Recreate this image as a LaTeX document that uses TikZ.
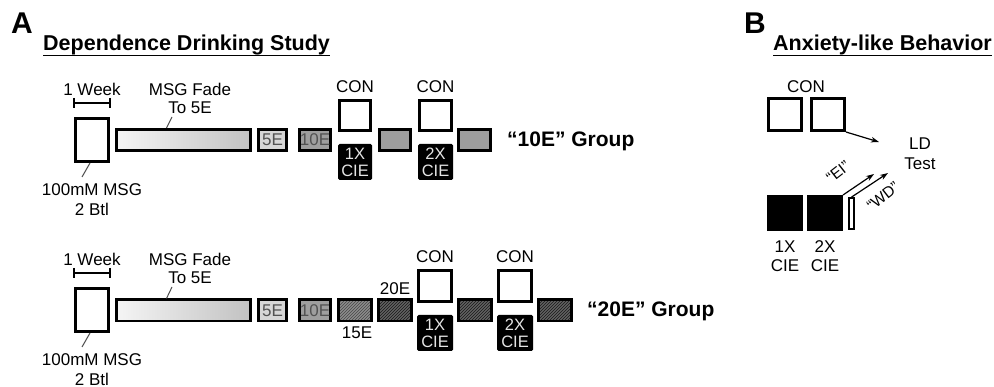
\documentclass[tikz,border=0pt]{standalone}
\usepackage{fontspec}
\setmainfont{Liberation Sans}
\usetikzlibrary{arrows.meta,patterns}
\begin{document}
\begin{tikzpicture}[x=1pt,y=-1pt,
  lbl/.style={inner sep=0pt,font=\fontsize{17}{19}\selectfont},
  ttl/.style={inner sep=0pt,anchor=base west,font=\bfseries\fontsize{21.5}{24}\selectfont},
  grp/.style={inner sep=0pt,anchor=base west,font=\bfseries\fontsize{21}{24}\selectfont},
  letter/.style={inner sep=0pt,anchor=base west,font=\bfseries\fontsize{30}{32}\selectfont},
  box/.style={draw=black,line width=2.8pt,inner sep=0pt},
  wbox/.style={box,fill=white},
  barbox/.style={box,minimum height=21.2pt},
  etxt/.style={font=\fontsize{17}{19}\selectfont,text=black!68},
  cie/.style={fill=black,rounded corners=1.5pt,inner sep=0pt,align=center,
    text=black!10,font=\fontsize{16.5}{17}\selectfont},
  hatchA/.style={preaction={fill=black!45},pattern=north east lines,pattern color=black!72},
  hatchB/.style={preaction={fill=black!62},pattern=north east lines,pattern color=black!90},
  conn/.style={line width=1pt,black!70},
  brk/.style={line width=2pt},
  arr/.style={line width=1.2pt,-{Stealth[length=8pt,width=5.5pt]}}
]
\useasboundingbox (0,0) rectangle (994,387);

% ---------------- Panel A ----------------
\node[letter] (la) at (11,34) {A};
\node[ttl] (ta) at (43,51) {Dependence Drinking Study};
\draw[line width=1.6pt] ([yshift=-4.5pt]ta.base west) -- ([yshift=-4.5pt]ta.base east);

% ---- top row ("10E" Group) ----
\node[lbl] (wk1) at (92,89) {1 Week};
\coordinate (wk1a) at (74,103);
\coordinate (wk1b) at (110,103);
\draw[brk] (wk1a) -- (wk1b);
\draw[brk] ([yshift=5pt]wk1a) -- ([yshift=-5pt]wk1a);
\draw[brk] ([yshift=5pt]wk1b) -- ([yshift=-5pt]wk1b);

\node[wbox,minimum width=33.2pt,minimum height=43.2pt] (msg1) at (92,140) {};
\coordinate (m1c) at (82,177);
\draw[conn] ([xshift=-2pt]msg1.south) -- (m1c);
\node[lbl] (m1t) at (92,190) {100mM MSG};
\node[lbl] (m1u) at (92,209) {2 Btl};

\node[barbox,minimum width=134.2pt,left color=black!4,right color=black!24] (fade1) at (183.5,140) {};
\node[lbl] (f1a) at (190,89) {MSG Fade};
\node[lbl] (f1b) at (190,108) {To 5E};
\coordinate (f1c) at (172,117);
\draw[conn] ([xshift=-17pt]fade1.north) -- (f1c);

\node[barbox,minimum width=28.2pt,fill=black!16,etxt] (e5a) at (272.5,140) {5E};
\node[barbox,minimum width=31.2pt,fill=black!38,etxt] (e10a) at (315,140) {10E};

\node[lbl] (cta1) at (355,87) {CON};
\node[wbox,minimum width=31.2pt,minimum height=30.2pt] (cona1) at (355,115.5) {};
\node[cie,minimum width=34pt,minimum height=36pt] (ciea1) at (355,162) {1X\\CIE};
\node[barbox,minimum width=31.2pt,fill=black!38] (ga1) at (395,140) {};
\node[lbl] (cta2) at (435.5,87) {CON};
\node[wbox,minimum width=32.2pt,minimum height=30.2pt] (cona2) at (435.5,115.5) {};
\node[cie,minimum width=35pt,minimum height=36pt] (ciea2) at (435.5,162) {2X\\CIE};
\node[barbox,minimum width=32.2pt,fill=black!38] (ga2) at (474.5,140) {};
\node[grp] (g10) at (507,147) {“10E” Group};

% ---- bottom row ("20E" Group) ----
\node[lbl] (wk2) at (92,259) {1 Week};
\coordinate (wk2a) at (74,273);
\coordinate (wk2b) at (110,273);
\draw[brk] (wk2a) -- (wk2b);
\draw[brk] ([yshift=5pt]wk2a) -- ([yshift=-5pt]wk2a);
\draw[brk] ([yshift=5pt]wk2b) -- ([yshift=-5pt]wk2b);

\node[wbox,minimum width=33.2pt,minimum height=43.2pt] (msg2) at (92,310) {};
\coordinate (m2c) at (82,347);
\draw[conn] ([xshift=-2pt]msg2.south) -- (m2c);
\node[lbl] (m2t) at (92,360) {100mM MSG};
\node[lbl] (m2u) at (92,379) {2 Btl};

\node[barbox,minimum width=134.2pt,left color=black!4,right color=black!24] (fade2) at (183.5,310.5) {};
\node[lbl] (f2a) at (190,259) {MSG Fade};
\node[lbl] (f2b) at (190,278) {To 5E};
\coordinate (f2c) at (172,287);
\draw[conn] ([xshift=-17pt]fade2.north) -- (f2c);

\node[barbox,minimum width=28.2pt,fill=black!16,etxt] (e5b) at (272.5,310.5) {5E};
\node[barbox,minimum width=31.2pt,fill=black!38,etxt] (e10b) at (315,310.5) {10E};
\node[barbox,minimum width=33.2pt,hatchA] (e15) at (355,310.5) {};
\node[lbl] (t15) at (357,333) {15E};
\node[barbox,minimum width=33.2pt,hatchB] (e20) at (395,310.5) {};
\node[lbl] (t20) at (395,289) {20E};

\node[lbl] (ctb1) at (435,257) {CON};
\node[wbox,minimum width=33.2pt,minimum height=31.2pt] (conb1) at (435,286) {};
\node[cie,minimum width=36pt,minimum height=36pt] (cieb1) at (435,333) {1X\\CIE};
\node[barbox,minimum width=33.2pt,hatchB] (hb1) at (475,310.5) {};
\node[lbl] (ctb2) at (515,257) {CON};
\node[wbox,minimum width=33.2pt,minimum height=31.2pt] (conb2) at (515,286) {};
\node[cie,minimum width=36pt,minimum height=36pt] (cieb2) at (515,333) {2X\\CIE};
\node[barbox,minimum width=33.2pt,hatchB] (hb2) at (555,310.5) {};
\node[grp] (g20) at (587,317) {“20E” Group};

% ---------------- Panel B ----------------
\node[letter] (lb) at (744,34) {B};
\node[ttl] (tb) at (773,51) {Anxiety-like Behavior};
\draw[line width=1.6pt] ([yshift=-4.5pt]tb.base west) -- ([yshift=-4.5pt]tb.base east);

\node[lbl] (bct) at (806,87) {CON};
\node[wbox,minimum width=33.2pt,minimum height=32.2pt] (bc1) at (785,114.5) {};
\node[wbox,minimum width=33.2pt,minimum height=32.2pt] (bc2) at (828,114.5) {};
\node[lbl,align=center] (ld) at (920,154) {LD\\[1pt]Test};
\coordinate (ldin) at (879,142);
\draw[arr] (bc2.south east) -- (ldin);

\node[box,fill=black,minimum width=33.2pt,minimum height=33.2pt] (bx1) at (785,213) {};
\node[box,fill=black,minimum width=33.2pt,minimum height=33.2pt] (bx2) at (825,213) {};
\node[box,line width=1.8pt,fill=white,minimum width=5pt,minimum height=31pt] (thin) at (851.5,213.5) {};
\node[lbl] (b1a) at (785,247) {1X};
\node[lbl] (b1b) at (785,266) {CIE};
\node[lbl] (b2a) at (825,247) {2X};
\node[lbl] (b2b) at (825,266) {CIE};

\coordinate (ei) at (874,174);
\coordinate (wd) at (888,173);
\draw[arr] (bx2.north east) -- (ei);
\draw[arr] (thin.north) -- (wd);
\node[inner sep=0pt,rotate=38,font=\fontsize{15.5}{17}\selectfont] (eit) at (838,172) {“EI”};
\node[inner sep=0pt,rotate=38,font=\fontsize{15.5}{17}\selectfont] (wdt) at (883,196) {“WD”};
\end{tikzpicture}
\end{document}
